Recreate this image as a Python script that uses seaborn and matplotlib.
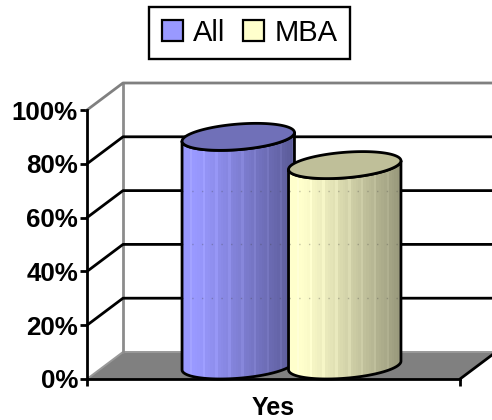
import numpy as np
import pandas as pd
import matplotlib
matplotlib.use("Agg")
import matplotlib.pyplot as plt
from matplotlib.path import Path
from matplotlib.patches import PathPatch, Polygon
from matplotlib.colors import to_rgb
import seaborn as sns

categories = ["Yes"]
series_names = ["All", "MBA"]
all_values = [85]
mba_values = [74.5]
y_ticks = [0, 20, 40, 60, 80, 100]
y_tick_labels = ["0%", "20%", "40%", "60%", "80%", "100%"]

W, H = 492, 420
sns.set_theme(style="white")
plt.rcParams["font.family"] = ["Liberation Sans", "DejaVu Sans"]

fig = plt.figure(figsize=(W / 100, H / 100), dpi=100)
L, R, B, T = 87, 460, 379, 110
ax = fig.add_axes([L / W, 1 - B / H, (R - L) / W, (B - T) / H])

df = pd.DataFrame({
    "category": categories * 2,
    "series": series_names,
    "value": all_values + mba_values,
})
sns.barplot(data=df, x="category", y="value", hue="series", hue_order=series_names,
            palette=["#9999FF", "#FFFFCC"], width=0.571, saturation=1,
            edgecolor="black", linewidth=1.6, ax=ax, zorder=5)
ax.set_xlim(-0.5, 0.5)
ax.set_ylim(0, 100)
ax.set_xlabel("")
ax.set_ylabel("")

# depth of the pseudo-3D box, in data units
dx = 36 / (R - L)
dy = 27 / (B - T) * 100
LW = 2.0
GRAY = "#808080"

handles, labels = ax.get_legend_handles_labels()
leg = ax.legend(handles, labels, loc="center", ncol=2,
                bbox_to_anchor=(249.5 / W, 1 - 33 / H), bbox_transform=fig.transFigure,
                fontsize=21, frameon=True, fancybox=False, framealpha=1,
                edgecolor="black", handlelength=0.72, handleheight=0.72,
                handletextpad=0.36, columnspacing=0.6, borderpad=0.42, borderaxespad=0,
                labelcolor="black")
leg.get_frame().set_linewidth(1.7)

bars = list(ax.patches)[:2]
for b in bars:
    b.set_visible(False)

# floor and walls
ax.add_patch(Polygon([(-0.5, 0), (0.5, 0), (0.5 + dx, dy), (-0.5 + dx, dy)], closed=True,
                     facecolor=GRAY, edgecolor="none", clip_on=False, zorder=1))
ax.plot([-0.5, -0.5 + dx], [0, dy], color="#999999", lw=1.4, clip_on=False, zorder=2)
ax.plot([-0.5 + dx, 0.5 + dx], [dy, dy], color="#999999", lw=1.4, clip_on=False, zorder=2)
ax.plot([-0.5 + dx, -0.5 + dx], [dy, 100 + dy], color="#8c8c8c", lw=LW, clip_on=False, zorder=2)
ax.plot([-0.5, -0.5 + dx, 0.5 + dx], [100, 100 + dy, 100 + dy], color=GRAY, lw=LW,
        clip_on=False, zorder=2)
for v in y_ticks[1:-1]:
    ax.plot([-0.5, -0.5 + dx, 0.5 + dx], [v, v + dy, v + dy], color="black", lw=LW,
            clip_on=False, zorder=2)
ax.plot([0.5, 0.5 + dx], [0, dy], color="black", lw=LW, clip_on=False, zorder=3)


def shade(color, dark, n=44):
    c0, c1 = np.array(to_rgb(color)), np.array(to_rgb(dark))
    f = (np.arange(n) + 0.5) / n
    f = np.clip((f - 0.12) / 0.88, 0, 1) ** 1.1
    img = c0[None] * (1 - f[:, None]) + c1[None] * f[:, None]
    img[3::5] = np.clip(img[3::5] + 0.04, 0, 1)
    return img[None, :, :]


tops = ["#7070B8", "#BFBF99"]
darks = ["#5A5A96", "#96967A"]
lights = ["#9999FF", "#FFFFCC"]
for i, b in enumerate(bars):
    xc = b.get_x() + b.get_width() / 2
    r = b.get_width() / 2
    v = b.get_height()
    t0 = np.arctan2(dx / 2, r)

    def ell(t, base):
        return np.column_stack([xc + dx / 2 + r * np.cos(t) + dx / 2 * np.sin(t),
                                base + dy / 2 + dy / 2 * np.sin(t)])

    arc = np.linspace(t0 - np.pi, t0, 80)
    outline = np.vstack([ell(arc, 0), ell(arc[::-1], v)])
    z = 5 + 2 * i
    body = PathPatch(Path(np.vstack([outline, outline[:1]]), closed=True), facecolor="none",
                     edgecolor="black", lw=LW, clip_on=False, zorder=z + 1, joinstyle="round")
    ax.add_patch(body)
    xmin, xmax = outline[:, 0].min(), outline[:, 0].max()
    im = ax.imshow(shade(lights[i], darks[i]), extent=[xmin, xmax, 0, v + dy], aspect="auto",
                   interpolation="nearest", zorder=z, clip_on=True)
    im.set_clip_path(body)
    # faint dotted trace of the back-wall gridlines seen through the cylinder
    for g in y_ticks[1:]:
        if g + dy < v:
            ln, = ax.plot([xmin, xmax], [g + dy, g + dy], color="#404040", lw=1.0, alpha=0.3,
                          ls=(0, (1, 6)), zorder=z)
            ln.set_clip_path(body)
    ax.add_patch(Polygon(ell(np.linspace(0, 2 * np.pi, 160), v), closed=True,
                         facecolor=tops[i], edgecolor="black", lw=LW, clip_on=False, zorder=z + 1))

ax.set_xlim(-0.5, 0.5)
ax.set_ylim(0, 100)

sns.despine(ax=ax, top=True, right=True)
for s in ("left", "bottom"):
    ax.spines[s].set_color("black")
    ax.spines[s].set_linewidth(LW)
    ax.spines[s].set_zorder(4)
ax.set_yticks(y_ticks, y_tick_labels, fontsize=18.6, fontweight="bold", color="black")
ax.set_xticks([0], categories, fontsize=18, fontweight="bold", color="black")
ax.set_xticks([-0.5, 0.5], minor=True)
ax.tick_params(axis="y", which="major", left=True, length=5, width=LW, color="black", pad=1.5)
ax.tick_params(axis="x", which="major", bottom=False, length=0, pad=12)
ax.tick_params(axis="x", which="minor", bottom=True, length=5, width=LW, color="black")
ax.patch.set_visible(False)
fig.savefig("out.png", dpi=100)
